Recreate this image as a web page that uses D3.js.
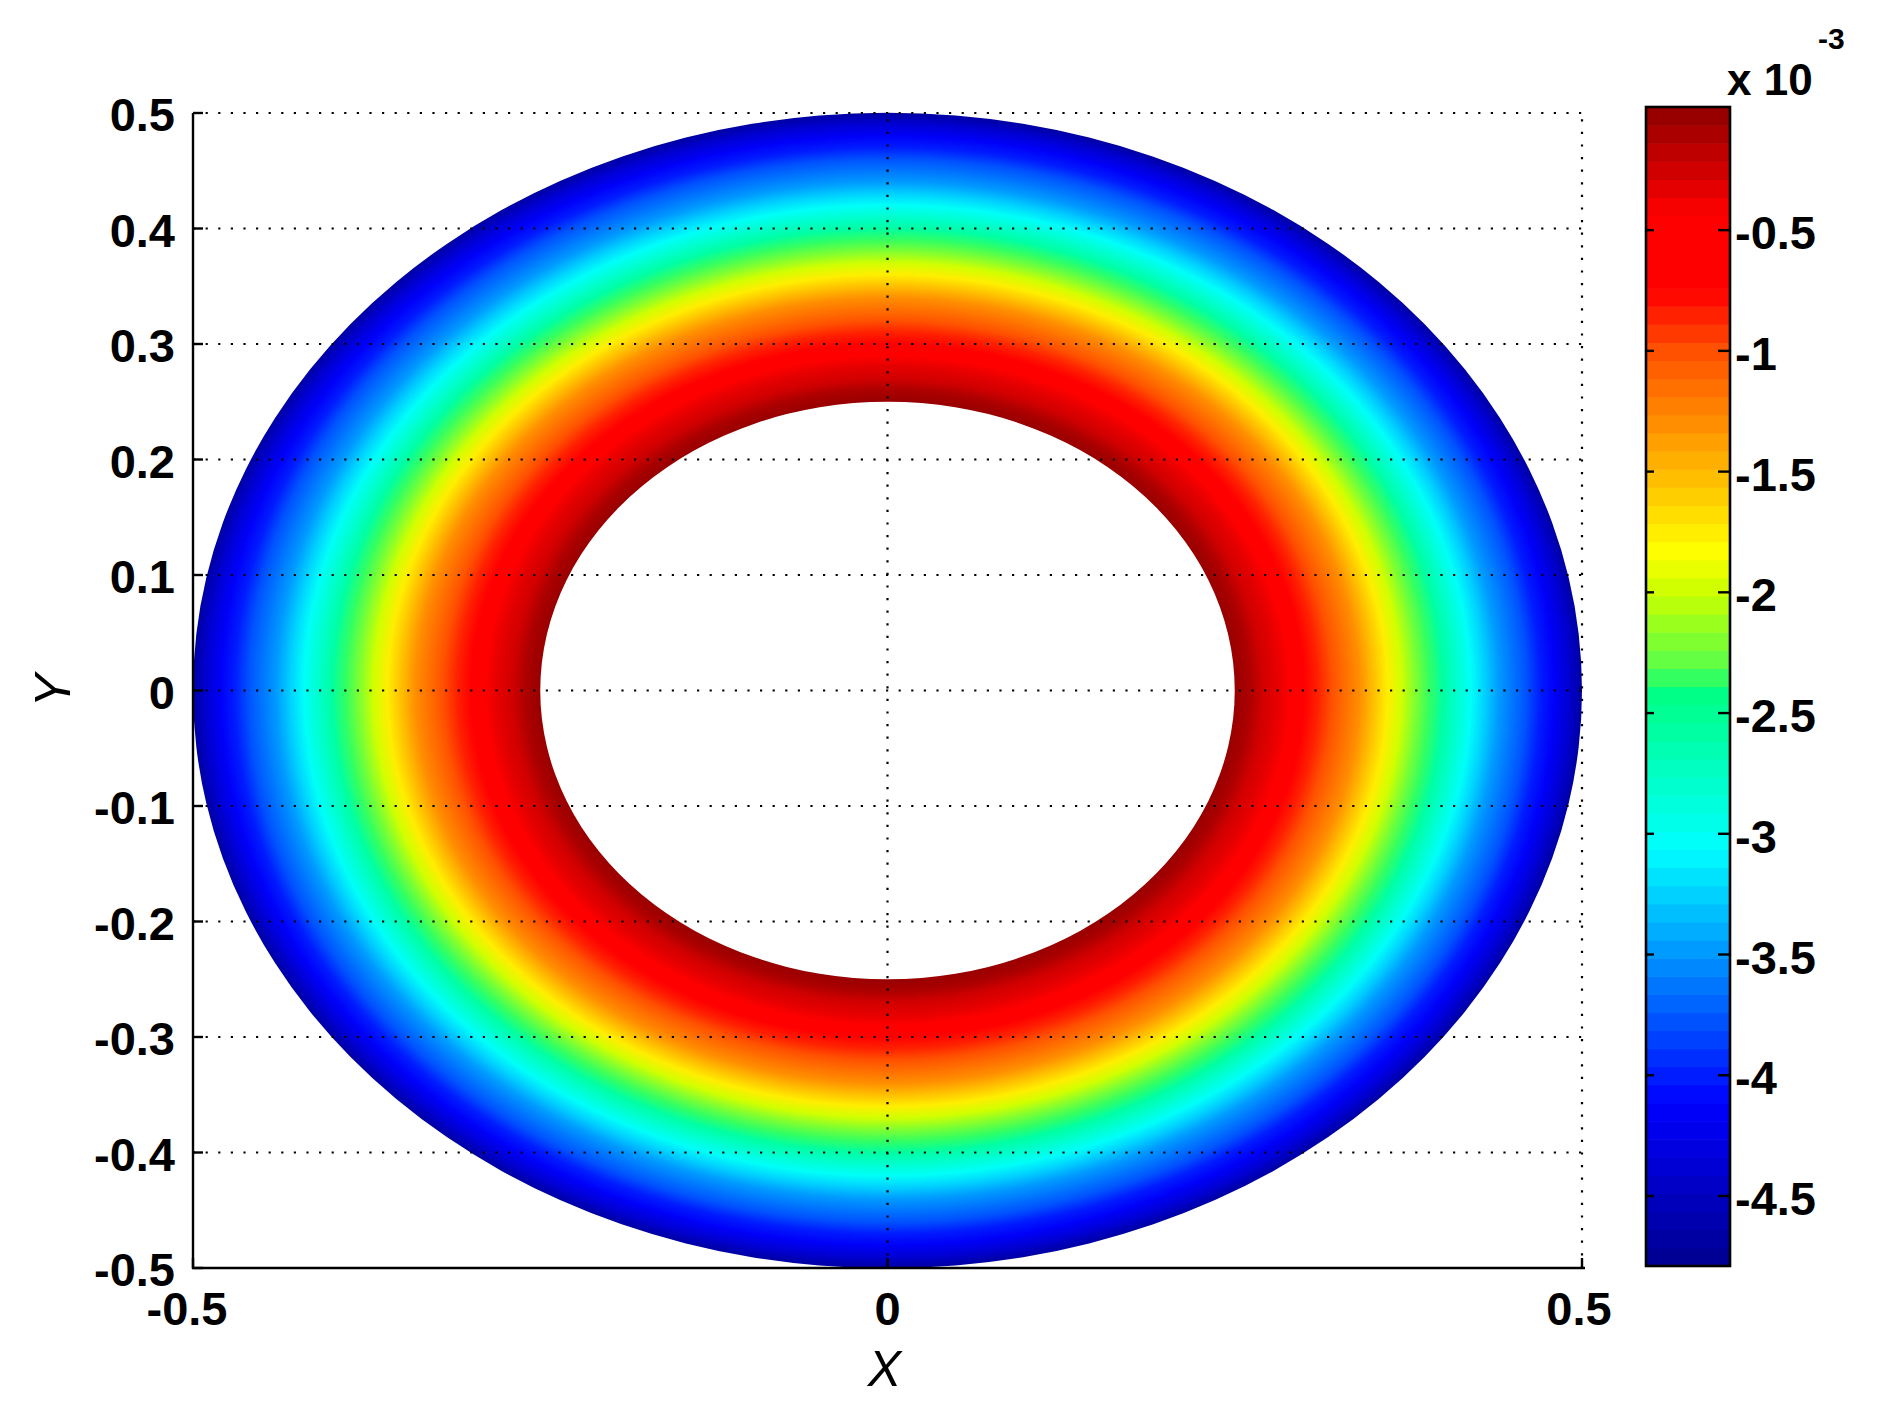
<!DOCTYPE html>
<html>
<head>
<meta charset="utf-8">
<script src="https://cdn.jsdelivr.net/npm/d3@7"></script>
<style>
  html, body { margin: 0; padding: 0; background: #ffffff; }
  svg { display: block; }
  text { font-family: "Liberation Sans", Arial, Helvetica, sans-serif; fill: #000; }
</style>
</head>
<body>
<svg id="chart" width="1894" height="1417"></svg>
<script>
// ---------------- data ----------------
const xTicks = [-0.5, 0, 0.5];
const yTicks = [-0.5, -0.4, -0.3, -0.2, -0.1, 0, 0.1, 0.2, 0.3, 0.4, 0.5];
const xTickLabels = ["-0.5", "0", "0.5"];
const yTickLabels = ["-0.5", "-0.4", "-0.3", "-0.2", "-0.1", "0", "0.1", "0.2", "0.3", "0.4", "0.5"];

// radial profile of the field on the annulus (r in data units, value in units of 1e-3)
const radii  = [0.25, 0.26, 0.27, 0.28, 0.29, 0.30, 0.31, 0.32, 0.33, 0.34, 0.35, 0.36, 0.37,
                0.38, 0.39, 0.40, 0.41, 0.42, 0.43, 0.44, 0.45, 0.46, 0.47, 0.48, 0.49, 0.50];
const values = [-0.02, -0.12, -0.22, -0.35, -0.52, -0.70, -0.85, -1.00, -1.18, -1.34, -1.52, -1.76, -2.01,
                -2.17, -2.32, -2.55, -2.80, -3.05, -3.26, -3.45, -3.63, -3.81, -3.98, -4.16, -4.40, -4.68];

// colorbar
const cLimits = [-4.79, 0.01];
const cbTicks = [-0.5, -1, -1.5, -2, -2.5, -3, -3.5, -4, -4.5];
const cbTickLabels = ["-0.5", "-1", "-1.5", "-2", "-2.5", "-3", "-3.5", "-4", "-4.5"];
const nColors = 64;
// colormap anchors (position 0 = bottom, 1 = top)
const cmapPos    = [0.0, 0.14, 0.36, 0.50, 0.512, 0.58, 0.616, 0.71, 0.79, 0.842, 0.907, 1.0];
const cmapColors = ["#00008f", "#0000ff", "#00ffff", "#00ff80", "#50ff50", "#c8ff00", "#ffff00",
                    "#ffa000", "#ff5000", "#ff0000", "#ff0000", "#8f0000"];

// ---------------- layout ----------------
const svg = d3.select("#chart");
const x = d3.scaleLinear().domain([-0.5, 0.5]).range([193, 1582]);
const y = d3.scaleLinear().domain([-0.5, 0.5]).range([1268, 113]);
const cbX0 = 1646, cbX1 = 1730;
const cbY = d3.scaleLinear().domain(cLimits).range([1266, 107]);

const cmap = d3.scaleLinear().domain(cmapPos).range(cmapColors).interpolate(d3.interpolateRgb).clamp(true);
function colorOf(v) {
  let t = (v - cLimits[0]) / (cLimits[1] - cLimits[0]);
  let idx = Math.min(nColors - 1, Math.max(0, Math.floor(t * nColors)));
  return cmap((idx + 0.5) / nColors);
}

// ---------------- field (annulus) ----------------
const defs = svg.append("defs");
const grad = defs.append("radialGradient")
  .attr("id", "ringGrad")
  .attr("gradientUnits", "objectBoundingBox")
  .attr("cx", 0.5).attr("cy", 0.5).attr("r", 0.5)
  .attr("fx", 0.5).attr("fy", 0.5);
const rMax = d3.max(radii);
grad.selectAll("stop").data(radii).join("stop")
  .attr("offset", d => d / rMax)
  .attr("stop-color", (d, i) => colorOf(values[i]));

function ellipsePath(r) {
  const cx = x(0), cy = y(0);
  const rx = x(r) - x(0), ry = y(0) - y(r);
  return `M${cx - rx},${cy} A${rx},${ry} 0 1,0 ${cx + rx},${cy} A${rx},${ry} 0 1,0 ${cx - rx},${cy} Z`;
}
svg.append("path")
  .attr("d", ellipsePath(d3.max(radii)) + " " + ellipsePath(d3.min(radii)))
  .attr("fill", "url(#ringGrad)")
  .attr("fill-rule", "evenodd");

// ---------------- grid (dotted, on top) ----------------
const grid = svg.append("g").attr("stroke", "#000").attr("stroke-width", 2.2)
  .attr("stroke-dasharray", "2.2,10.4").attr("fill", "none");
grid.selectAll("line.h").data(yTicks.filter(d => d > -0.5)).join("line")
  .attr("x1", x(-0.5)).attr("x2", x(0.5))
  .attr("y1", d => y(d)).attr("y2", d => y(d));
grid.selectAll("line.v").data(xTicks.filter(d => d > -0.5)).join("line")
  .attr("x1", d => x(d)).attr("x2", d => x(d))
  .attr("y1", y(-0.5)).attr("y2", y(0.5));

// ---------------- axes ----------------
const axes = svg.append("g").attr("stroke", "#000").attr("stroke-width", 2.4);
axes.append("line").attr("x1", x(-0.5)).attr("x2", x(-0.5)).attr("y1", y(-0.5) + 1).attr("y2", y(0.5));
axes.append("line").attr("x1", x(-0.5) - 1).attr("x2", x(0.5) + 3).attr("y1", y(-0.5)).attr("y2", y(-0.5));
axes.selectAll("line.yt").data(yTicks).join("line")
  .attr("x1", x(-0.5)).attr("x2", x(-0.5) + 10)
  .attr("y1", d => y(d)).attr("y2", d => y(d));
axes.selectAll("line.xt").data(xTicks).join("line")
  .attr("x1", d => x(d)).attr("x2", d => x(d))
  .attr("y1", y(-0.5)).attr("y2", y(-0.5) - 10);

svg.append("g").selectAll("text").data(yTicks).join("text")
  .attr("x", x(-0.5) - 18).attr("y", d => y(d) + 18)
  .attr("text-anchor", "end")
  .style("font-size", "47px").style("font-weight", "bold")
  .text((d, i) => yTickLabels[i]);

svg.append("g").selectAll("text").data(xTicks).join("text")
  .attr("x", (d, i) => x(d) + (i === 0 ? -6 : (i === 2 ? -3 : 0)))
  .attr("y", y(-0.5) + 57)
  .attr("text-anchor", "middle")
  .style("font-size", "47px").style("font-weight", "bold")
  .text((d, i) => xTickLabels[i]);

svg.append("text")
  .attr("x", x(0) - 3).attr("y", 1386)
  .attr("text-anchor", "middle")
  .style("font-size", "50px").style("font-style", "italic")
  .text("X");

svg.append("text")
  .attr("transform", `translate(70, ${y(0)}) rotate(-90)`)
  .attr("text-anchor", "middle")
  .style("font-size", "50px").style("font-style", "italic")
  .text("Y");

// ---------------- colorbar ----------------
const bandVals = d3.range(nColors).map(i => cLimits[0] + (cLimits[1] - cLimits[0]) * i / nColors);
const bandH = (cLimits[1] - cLimits[0]) / nColors;
svg.append("g").selectAll("rect").data(bandVals).join("rect")
  .attr("x", cbX0).attr("width", cbX1 - cbX0)
  .attr("y", d => cbY(d + bandH))
  .attr("height", d => cbY(d) - cbY(d + bandH) + 0.6)
  .attr("fill", d => colorOf(d + bandH / 2));
svg.append("rect")
  .attr("x", cbX0).attr("y", cbY(cLimits[1]))
  .attr("width", cbX1 - cbX0).attr("height", cbY(cLimits[0]) - cbY(cLimits[1]))
  .attr("fill", "none").attr("stroke", "#000").attr("stroke-width", 2.6);
const cbt = svg.append("g").attr("stroke", "#000").attr("stroke-width", 2.4);
cbt.selectAll("line.l").data(cbTicks).join("line")
  .attr("x1", cbX0).attr("x2", cbX0 + 8)
  .attr("y1", d => cbY(d)).attr("y2", d => cbY(d));
cbt.selectAll("line.r").data(cbTicks).join("line")
  .attr("x1", cbX1 - 12).attr("x2", cbX1)
  .attr("y1", d => cbY(d)).attr("y2", d => cbY(d));
svg.append("g").selectAll("text").data(cbTicks).join("text")
  .attr("x", cbX1 + 5).attr("y", d => cbY(d) + 19)
  .attr("text-anchor", "start")
  .style("font-size", "47px").style("font-weight", "bold")
  .text((d, i) => cbTickLabels[i]);

const expo = svg.append("text").attr("x", 1727).attr("y", 95)
  .style("font-size", "44px").style("font-weight", "bold");
expo.append("tspan").text("x 10");
svg.append("text").attr("x", 1818).attr("y", 49)
  .style("font-size", "30px").style("font-weight", "bold")
  .text("-3");
</script>
</body>
</html>
